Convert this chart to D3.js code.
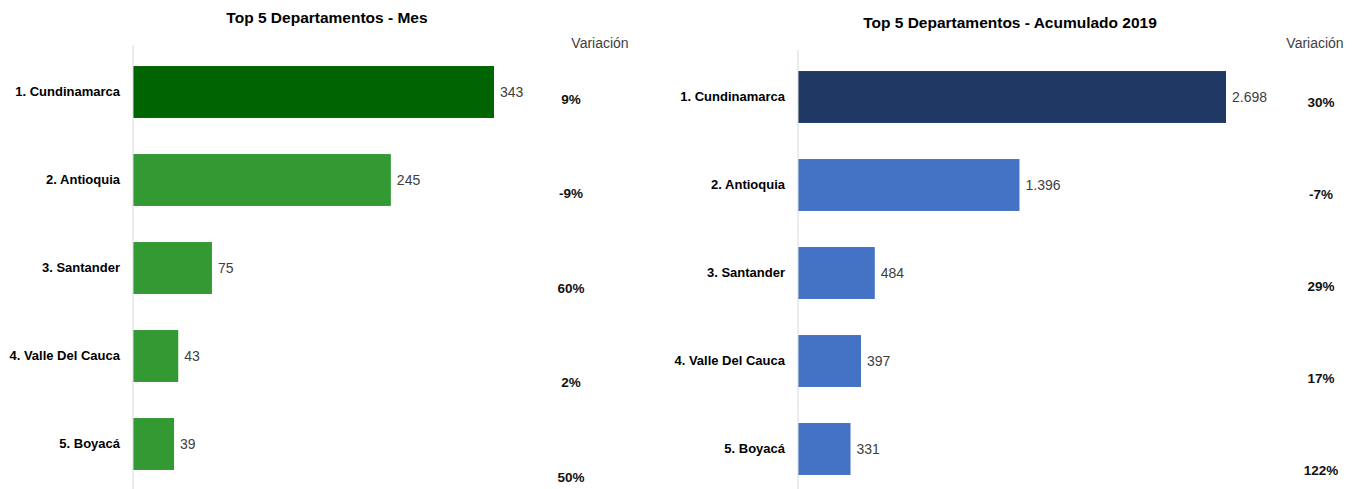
<!DOCTYPE html>
<html>
<head>
<meta charset="utf-8">
<script src="https://cdn.jsdelivr.net/npm/d3@7"></script>
<style>
  body { margin: 0; background: #fff; }
  svg { display: block; font-family: "Liberation Sans Narrow", "Arial Narrow", "Liberation Sans", sans-serif; }
</style>
</head>
<body>
<div id="chart"></div>
<script>
// Top 5 departamentos: mes y acumulado 2019
const departamentos = ["1. Cundinamarca", "2. Antioquia", "3. Santander", "4. Valle Del Cauca", "5. Boyacá"];
const valoresMes = [343, 245, 75, 43, 39];
const variacionMes = ["9%", "-9%", "60%", "2%", "50%"];
const valoresAcum = [2698, 1396, 484, 397, 331];
const variacionAcum = ["30%", "-7%", "29%", "17%", "122%"];

const W = 1360, H = 489;
const es = d3.formatLocale({ decimal: ",", thousands: ".", grouping: [3], currency: ["$", ""] });
const fmt = es.format(",d");

const svg = d3.select("#chart").append("svg")
    .attr("width", W)
    .attr("height", H);

function panel(cfg) {
  const g = svg.append("g");

  const x = d3.scaleLinear()
      .domain([0, d3.max(cfg.values)])
      .range([cfg.x0, cfg.x1]);

  const y = d3.scaleBand()
      .domain(departamentos)
      .range([cfg.y0, cfg.y0 + 440])
      .paddingInner(0.41)
      .paddingOuter(0.205);

  // title
  g.append("text")
      .attr("x", cfg.titleX)
      .attr("y", cfg.titleY)
      .attr("text-anchor", "middle")
      .attr("font-size", 15.5)
      .attr("font-weight", "bold")
      .attr("fill", "#000")
      .text(cfg.title);

  // bars
  g.selectAll("rect")
    .data(cfg.values)
    .join("rect")
      .attr("x", x(0))
      .attr("y", (d, i) => y(departamentos[i]))
      .attr("width", d => x(d) - x(0))
      .attr("height", y.bandwidth())
      .attr("fill", (d, i) => i === 0 ? cfg.first : cfg.rest);

  // vertical axis line + category labels
  const axis = d3.axisLeft(y).tickSize(0).tickPadding(13);
  const ag = g.append("g")
      .attr("transform", `translate(${x(0)},0)`)
      .call(axis);
  ag.attr("font-family", null);
  ag.select(".domain").attr("stroke", "#d9d9d9").attr("d", `M0,${cfg.lineTop}V${H}`);
  ag.selectAll("text")
      .attr("font-size", 13)
      .attr("font-weight", "bold")
      .attr("fill", "#000");

  // value labels
  g.selectAll(".val")
    .data(cfg.values)
    .join("text")
      .attr("class", "val")
      .attr("x", d => x(d) + 6)
      .attr("y", (d, i) => y(departamentos[i]) + y.bandwidth() / 2)
      .attr("dy", "0.35em")
      .attr("font-size", 14)
      .attr("fill", "#404040")
      .text(fmt);

  // variación column
  g.append("text")
      .attr("x", cfg.varX)
      .attr("y", 48)
      .attr("text-anchor", "middle")
      .attr("font-size", 14)
      .attr("fill", "#404040")
      .text("Variación");

  const yv = d3.scalePoint()
      .domain(departamentos)
      .range(cfg.varRange);

  g.selectAll(".var")
    .data(cfg.variacion)
    .join("text")
      .attr("class", "var")
      .attr("x", cfg.varValX)
      .attr("y", (d, i) => yv(departamentos[i]))
      .attr("dy", "0.35em")
      .attr("text-anchor", "middle")
      .attr("font-size", 13.5)
      .attr("font-weight", "bold")
      .attr("fill", "#111")
      .text(d => d);
}

panel({
  title: "Top 5 Departamentos - Mes",
  titleX: 327, titleY: 23,
  values: valoresMes, variacion: variacionMes,
  x0: 133, x1: 494, y0: 48, lineTop: 45,
  first: "#006400", rest: "#339933",
  varX: 600, varValX: 571, varRange: [99, 477]
});

panel({
  title: "Top 5 Departamentos - Acumulado 2019",
  titleX: 1010, titleY: 28,
  values: valoresAcum, variacion: variacionAcum,
  x0: 798, x1: 1226, y0: 53, lineTop: 50,
  first: "#203864", rest: "#4472C4",
  varX: 1315, varValX: 1321, varRange: [102, 470]
});
</script>
</body>
</html>
